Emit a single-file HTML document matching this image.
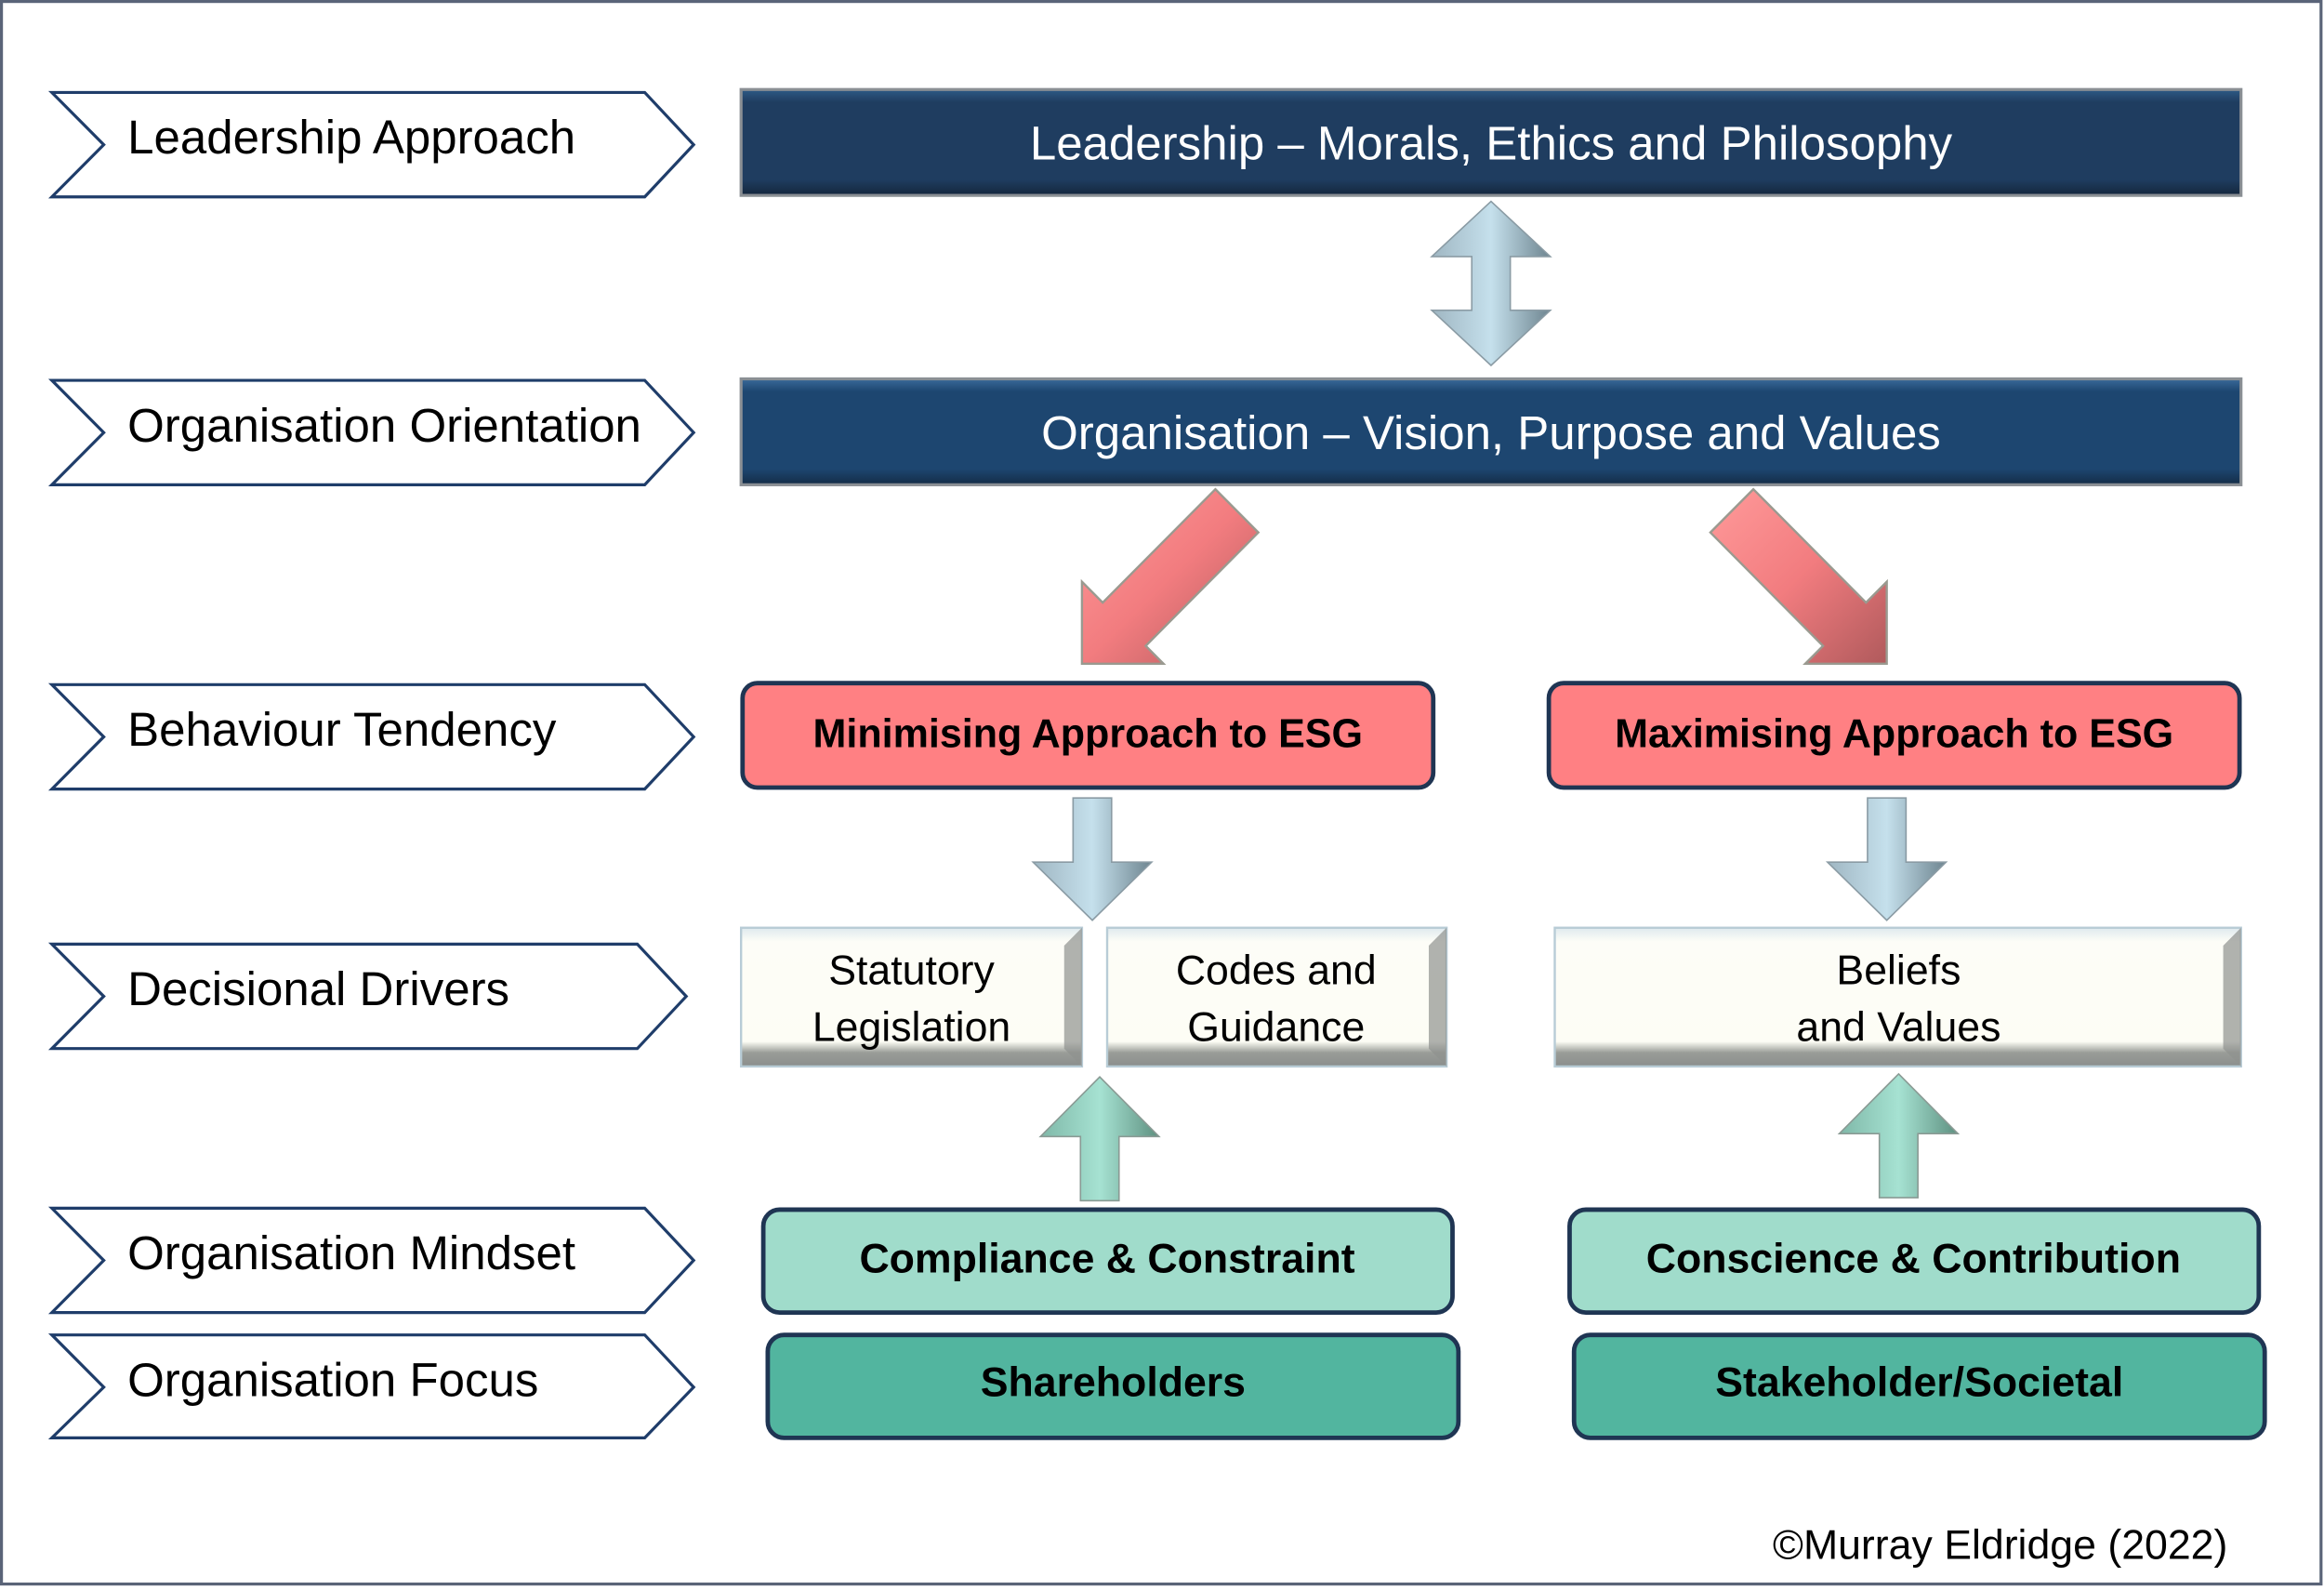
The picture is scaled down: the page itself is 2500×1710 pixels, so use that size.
<!DOCTYPE html>
<html><head><meta charset="utf-8"><style>html,body{margin:0;padding:0;background:#fff}svg{display:block}</style></head>
<body>
<svg width="2500" height="1710" viewBox="0 0 1568 1066" preserveAspectRatio="none" xmlns="http://www.w3.org/2000/svg">
<defs>
<linearGradient id="db" x1="0" y1="0" x2="0" y2="1"><stop offset="0" stop-color="#2e5a86"/><stop offset="0.12" stop-color="#1f3d60"/><stop offset="0.85" stop-color="#1f3d60"/><stop offset="1" stop-color="#14263c"/></linearGradient>
<linearGradient id="db2" x1="0" y1="0" x2="0" y2="1"><stop offset="0" stop-color="#3a6a9a"/><stop offset="0.12" stop-color="#1d4670"/><stop offset="0.85" stop-color="#1d4670"/><stop offset="1" stop-color="#142c46"/></linearGradient>
<linearGradient id="cr" x1="0" y1="0" x2="0" y2="1"><stop offset="0" stop-color="#dfe9ee"/><stop offset="0.1" stop-color="#fdfdf7"/><stop offset="0.82" stop-color="#fdfdf5"/><stop offset="0.9" stop-color="#9a9d98"/><stop offset="1" stop-color="#8a8e8c"/></linearGradient>
<linearGradient id="bl" x1="0" y1="0" x2="1" y2="0"><stop offset="0" stop-color="#9fb6c2"/><stop offset="0.5" stop-color="#c5e0ec"/><stop offset="1" stop-color="#6e8590"/></linearGradient>
<linearGradient id="gr" x1="0" y1="0" x2="1" y2="0"><stop offset="0" stop-color="#7fb8a8"/><stop offset="0.5" stop-color="#a6e2d2"/><stop offset="1" stop-color="#5e9080"/></linearGradient>
<linearGradient id="rd" x1="0" y1="0" x2="1" y2="1"><stop offset="0" stop-color="#ff9a9a"/><stop offset="0.5" stop-color="#f27c7f"/><stop offset="1" stop-color="#b05a5c"/></linearGradient>
</defs>
<rect x="1" y="1" width="1565" height="1061" fill="#fff" stroke="#5a6478" stroke-width="2"/>

<g fill="#fff" stroke="#1f3d6a" stroke-width="2">
<polygon points="35,62 435,62 468,97 435,132 35,132 70,97"/>
<polygon points="35,255 435,255 468,290 435,325 35,325 70,290"/>
<polygon points="35,459 435,459 468,494 435,529 35,529 70,494"/>
<polygon points="35,633 430,633 463,668 430,703 35,703 70,668"/>
<polygon points="35,810 435,810 468,845 435,880 35,880 70,845"/>
<polygon points="35,895 435,895 468,930 435,964 35,964 70,930"/>
</g>
<g font-family="Liberation Sans, sans-serif" font-size="32" fill="#000">
<text x="86" y="103">Leadership Approach</text>
<text x="86" y="296">Organisation Orientation</text>
<text x="86" y="500">Behaviour Tendency</text>
<text x="86" y="674">Decisional Drivers</text>
<text x="86" y="851">Organisation Mindset</text>
<text x="86" y="936">Organisation Focus</text>
</g>

<rect x="500" y="60" width="1012" height="71" fill="url(#db)" stroke="#8a8f94" stroke-width="2"/>
<rect x="500" y="254" width="1012" height="71" fill="url(#db2)" stroke="#8a8f94" stroke-width="2"/>
<g font-family="Liberation Sans, sans-serif" font-size="32" fill="#fff" text-anchor="middle">
<text x="1006" y="107">Leadership – Morals, Ethics and Philosophy</text>
<text x="1006" y="301">Organisation – Vision, Purpose  and Values</text>
</g>

<polygon points="1006,135 1046,172 1019,172 1019,208 1046,208 1006,245 966,208 993,208 993,172 966,172" fill="url(#bl)" stroke="#8a9ba4" stroke-width="1"/>

<polygon points="820,328 849,357 773,433 785,445 730,445 730,390 744,404" fill="url(#rd)" stroke="#9a9a90" stroke-width="1.5"/>
<polygon points="1183,328 1154,357 1230,433 1218,445 1273,445 1273,390 1259,404" fill="url(#rd)" stroke="#9a9a90" stroke-width="1.5"/>

<rect x="501" y="458" width="466" height="70" rx="10" fill="#ff8083" stroke="#1f3553" stroke-width="3"/>
<rect x="1045" y="458" width="466" height="70" rx="10" fill="#ff8083" stroke="#1f3553" stroke-width="3"/>
<g font-family="Liberation Sans, sans-serif" font-size="27" font-weight="bold" fill="#000" text-anchor="middle">
<text x="734" y="501">Minimising Approach to ESG</text>
<text x="1278" y="501">Maximising Approach to ESG</text>
</g>

<polygon points="724,535 750,535 750,578 777,578 737,617 697,578 724,578" fill="url(#bl)" stroke="#8a9ba4" stroke-width="1"/>
<polygon points="1260,535 1286,535 1286,578 1313,578 1273,617 1233,578 1260,578" fill="url(#bl)" stroke="#8a9ba4" stroke-width="1"/>

<g stroke="#b8ccd6" stroke-width="1.5">
<rect x="500" y="622" width="230" height="93" fill="url(#cr)"/>
<rect x="747" y="622" width="229" height="93" fill="url(#cr)"/>
<rect x="1049" y="622" width="463" height="93" fill="url(#cr)"/>
</g>
<g fill="#8f928f" opacity="0.7">
<polygon points="730,622 730,715 718,703 718,634"/>
<polygon points="976,622 976,715 964,703 964,634"/>
<polygon points="1512,622 1512,715 1500,703 1500,634"/>
</g>
<g font-family="Liberation Sans, sans-serif" font-size="28" fill="#000" text-anchor="middle">
<text x="615" y="660">Statutory</text><text x="615" y="698">Legislation</text>
<text x="861" y="660">Codes and</text><text x="861" y="698">Guidance</text>
<text x="1281" y="660">Beliefs</text><text x="1281" y="698">and Values</text>
</g>

<polygon points="742,722 782,762 755,762 755,805 729,805 729,762 702,762" fill="url(#gr)" stroke="#8a9a94" stroke-width="1"/>
<polygon points="1281,720 1321,760 1294,760 1294,803 1268,803 1268,760 1241,760" fill="url(#gr)" stroke="#8a9a94" stroke-width="1"/>

<rect x="515" y="811" width="465" height="69" rx="11" fill="#a0dccb" stroke="#1f3553" stroke-width="3"/>
<rect x="1059" y="811" width="465" height="69" rx="11" fill="#a0dccb" stroke="#1f3553" stroke-width="3"/>
<rect x="518" y="895" width="466" height="69" rx="11" fill="#52b59f" stroke="#1f3553" stroke-width="3"/>
<rect x="1062" y="895" width="466" height="69" rx="11" fill="#52b59f" stroke="#1f3553" stroke-width="3"/>
<g font-family="Liberation Sans, sans-serif" font-size="28" font-weight="bold" fill="#000" text-anchor="middle">
<text x="747" y="853">Compliance &amp; Constraint</text>
<text x="1291" y="853">Conscience &amp; Contribution</text>
<text x="751" y="936">Shareholders</text>
<text x="1295" y="936">Stakeholder/Societal</text>
</g>

<text x="1503" y="1045" font-family="Liberation Sans, sans-serif" font-size="28" fill="#000" text-anchor="end">©Murray Eldridge (2022)</text>
</svg>
</body></html>
